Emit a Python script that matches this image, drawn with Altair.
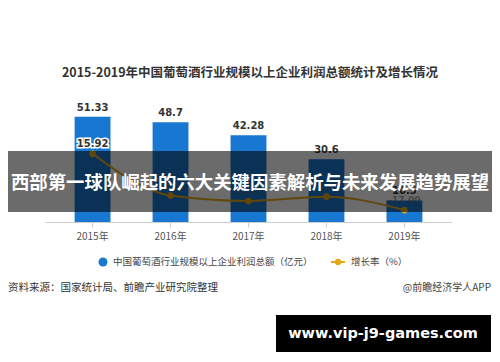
import altair as alt
import pandas as pd

years = ["2015年", "2016年", "2017年", "2018年", "2019年"]
profit = [51.33, 48.7, 42.28, 30.6, 10.5]
growth = [15.92, -8.5, -11.7, -9.2, -17.0]
growth_labels = ["15.92", "-8.50", "-11.70", "-9.20", "-17.00"]

title_text = "2015-2019年中国葡萄酒行业规模以上企业利润总额统计及增长情况"
legend_bar = "中国葡萄酒行业规模以上企业利润总额（亿元）"
legend_line = "增长率（%）"
source_left = "资料来源：国家统计局、前瞻产业研究院整理"
source_right = "@前瞻经济学人APP"
banner_text = "西部第一球队崛起的六大关键因素解析与未来发展趋势展望"
site_text = "www.vip-j9-games.com"

FONT = "Noto Sans CJK SC"
BAR = "#1877d0"
LINE = "#e6a817"

df = pd.DataFrame({"year": years, "profit": profit, "growth": growth, "glabel": growth_labels})
first = df.iloc[:1]
rest = df.iloc[1:]
one = pd.DataFrame({"k": [0]})

xenc = alt.X("year:N", sort=years, title=None,
             scale=alt.Scale(paddingInner=0.54, paddingOuter=0.38),
             axis=alt.Axis(labelAngle=0, labelFontSize=10, labelColor="#555", labelFont=FONT,
                           domainColor="#cccccc", tickColor="#cccccc", tickSize=5, labelPadding=4))

yl = alt.Y("profit:Q", scale=alt.Scale(domain=[0, 60]),
           axis=alt.Axis(values=[0, 20, 40, 60], title="单位：亿元", titleFontSize=9,
                         titleFont=FONT, titleColor="#999", titleFontWeight="normal",
                         titlePadding=3, labelFontSize=10, labelColor="#666",
                         domain=False, ticks=False, labelPadding=5, gridColor="#e6e6e6"))
yl_noaxis = alt.Y("profit:Q", scale=alt.Scale(domain=[0, 60]), axis=None)

yr = alt.Y("growth:Q", scale=alt.Scale(domain=[-24, 48]),
           axis=alt.Axis(values=[-24, 0, 24, 48], orient="right", title="单位：%",
                         titleFontSize=9, titleFont=FONT, titleColor="#999",
                         titleFontWeight="normal", titlePadding=4, labelFontSize=10,
                         labelColor="#666", domain=False, ticks=False, grid=False,
                         labelPadding=6))
yr_noaxis = alt.Y("growth:Q", scale=alt.Scale(domain=[-24, 48]), axis=None)

base = alt.Chart(df)
bars = base.mark_bar(color=BAR).encode(x=xenc, y=yl)
bar_labels = base.mark_text(dy=-9, fontSize=10, fontWeight="bold", color="#333",
                            font="DejaVu Sans").encode(x=xenc, y=yl_noaxis, text="profit:Q")
left = alt.layer(bars, bar_labels)

line = base.mark_line(color=LINE, strokeWidth=2, interpolate="monotone").encode(x=xenc, y=yr)
pts = base.mark_circle(color=LINE, size=45, opacity=1).encode(x=xenc, y=yr_noaxis)
gl_halo = alt.Chart(first).mark_text(dy=-10, fontSize=10, fontWeight="bold", color="white",
                                     stroke="white", strokeWidth=3, font="DejaVu Sans").encode(
    x=xenc, y=yr_noaxis, text="glabel:N")
gl_first = alt.Chart(first).mark_text(dy=-10, fontSize=10, fontWeight="bold", color="#333",
                                      font="DejaVu Sans").encode(x=xenc, y=yr_noaxis, text="glabel:N")
gl_rest = alt.Chart(rest).mark_text(dy=-10, fontSize=9, fontWeight="bold", color="#666",
                                    opacity=0.6, font="DejaVu Sans").encode(
    x=xenc, y=yr_noaxis, text="glabel:N")
right = alt.layer(line, pts, gl_halo, gl_first, gl_rest)

main = alt.layer(left, right).resolve_scale(y="independent")

oc = alt.Chart(one)
title = oc.mark_text(fontSize=12.5, fontWeight="bold", color="#333", font=FONT).encode(
    x=alt.value(205), y=alt.value(-26), text=alt.value(title_text))
leg_dot = oc.mark_circle(color=BAR, size=80, opacity=1).encode(x=alt.value(58), y=alt.value(163))
leg_t1 = oc.mark_text(fontSize=9.5, color="#444", align="left", font=FONT).encode(
    x=alt.value(68), y=alt.value(163), text=alt.value(legend_bar))
leg_line = oc.mark_rule(color=LINE, strokeWidth=2).encode(
    x=alt.value(286), x2=alt.value(300), y=alt.value(163))
leg_pt = oc.mark_circle(color=LINE, size=40, opacity=1).encode(x=alt.value(293), y=alt.value(163))
leg_t2 = oc.mark_text(fontSize=9.5, color="#444", align="left", font=FONT).encode(
    x=alt.value(306), y=alt.value(163), text=alt.value(legend_line))
src_l = oc.mark_text(fontSize=10.5, color="#333", align="left", font=FONT).encode(
    x=alt.value(-37), y=alt.value(189), text=alt.value(source_left))
src_r = oc.mark_text(fontSize=10, color="#444", align="right", font=FONT).encode(
    x=alt.value(446), y=alt.value(189), text=alt.value(source_right))
banner = oc.mark_rect(color="black", opacity=0.58).encode(
    x=alt.value(-45), x2=alt.value(460), y=alt.value(52), y2=alt.value(113))
banner_t = oc.mark_text(fontSize=18.4, fontWeight="bold", color="white", font=FONT).encode(
    x=alt.value(205), y=alt.value(84), text=alt.value(banner_text))
box = oc.mark_rect(color="black", opacity=1).encode(
    x=alt.value(231), x2=alt.value(446), y=alt.value(216), y2=alt.value(253))
box_t = oc.mark_text(fontSize=14.5, fontWeight="bold", color="white", font="DejaVu Sans").encode(
    x=alt.value(338), y=alt.value(235), text=alt.value(site_text))

chart = alt.layer(main, title, leg_dot, leg_t1, leg_line, leg_pt, leg_t2, src_l, src_r,
                  banner, banner_t, box, box_t).properties(
    width=407, height=123, autosize="none",
    padding={"left": 37, "top": 91, "right": 40, "bottom": 132},
    background="white",
).configure_view(stroke=None)

chart.save("out.html", embed_options={"renderer": "svg", "actions": False})
